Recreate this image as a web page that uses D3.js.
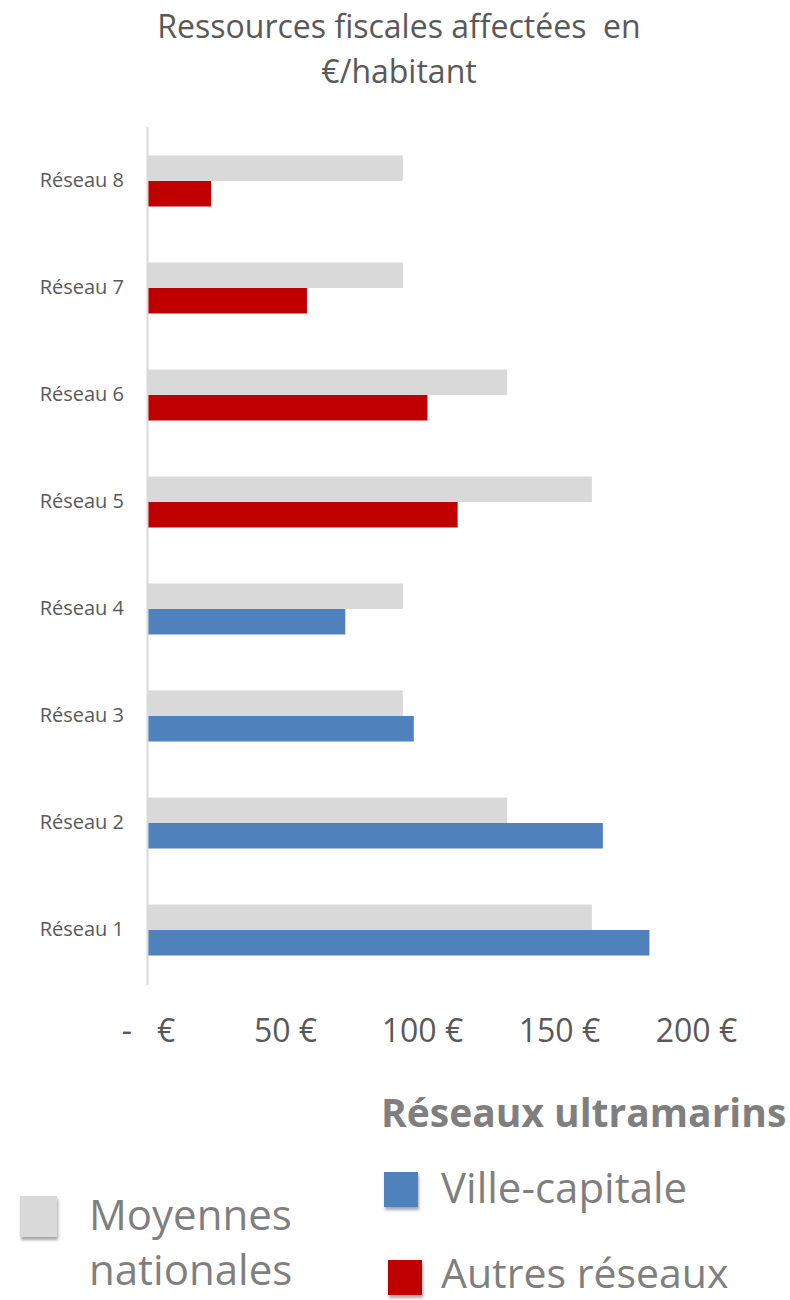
<!DOCTYPE html>
<html>
<head>
<meta charset="utf-8">
<script src="https://cdn.jsdelivr.net/npm/d3@7"></script>
<style>
  body { margin: 0; background: #fff; }
  text { font-family: "Open Sans", "Noto Sans", sans-serif; white-space: pre; }
</style>
</head>
<body>
<svg id="viz"></svg>
<script>
const width = 790;
const height = 1300;

// data
const categories = ["Réseau 8", "Réseau 7", "Réseau 6", "Réseau 5", "Réseau 4", "Réseau 3", "Réseau 2", "Réseau 1"];
const moyennes = [93, 93, 131, 162, 93, 93, 131, 162];
const reseaux = [23, 58, 102, 113, 72, 97, 166, 183];
const groupes = ["autre", "autre", "autre", "autre", "capitale", "capitale", "capitale", "capitale"];
const xTicks = [0, 50, 100, 150, 200];

const colors = { moyenne: "#d9d9d9", capitale: "#4f81bd", autre: "#c00000" };

const svg = d3.select("#viz").attr("width", width).attr("height", height);

// title
svg.append("text").attr("x", 399).attr("y", 38).attr("text-anchor", "middle")
    .attr("font-size", 32).attr("fill", "#595959").text("Ressources fiscales affectées  en");
svg.append("text").attr("x", 399).attr("y", 83).attr("text-anchor", "middle")
    .attr("font-size", 32).attr("fill", "#595959").text("€/habitant");

const x = d3.scaleLinear().domain([0, 200]).range([148, 696]);
const y = d3.scaleBand().domain(categories).range([127.5, 983.5]);
const barH = 25.5;

const rows = categories.map((c, i) => ({ cat: c, moy: moyennes[i], val: reseaux[i], grp: groupes[i] }));

// national average bars
svg.append("g").selectAll("rect").data(rows).enter().append("rect")
    .attr("x", x(0))
    .attr("y", d => y(d.cat) + y.bandwidth() / 2 - barH)
    .attr("width", d => x(d.moy) - x(0))
    .attr("height", barH)
    .attr("fill", colors.moyenne);

// network bars
svg.append("g").selectAll("rect").data(rows).enter().append("rect")
    .attr("x", x(0))
    .attr("y", d => y(d.cat) + y.bandwidth() / 2)
    .attr("width", d => x(d.val) - x(0))
    .attr("height", barH)
    .attr("fill", d => colors[d.grp]);

// vertical axis line
svg.append("line").attr("x1", 147.5).attr("x2", 147.5).attr("y1", 127).attr("y2", 985)
    .attr("stroke", "#d9d9d9").attr("stroke-width", 2);

// category labels
const yAxis = svg.append("g").attr("transform", "translate(124,0)")
    .call(d3.axisLeft(y).tickSize(0).tickPadding(0));
yAxis.select(".domain").remove();
yAxis.selectAll("text").attr("font-size", 20).attr("fill", "#595959")
    .attr("font-family", "'Open Sans', sans-serif");

// x tick labels
const fmt = v => v === 0 ? "-   €" : v + " €";
const xAxis = svg.append("g").attr("transform", "translate(0,1012)")
    .call(d3.axisBottom(x).tickValues(xTicks).tickSize(0).tickPadding(0).tickFormat(fmt));
xAxis.select(".domain").remove();
xAxis.selectAll("text").attr("font-size", 32).attr("fill", "#595959")
    .attr("font-family", "'Open Sans', sans-serif")
    .attr("dy", "0.95em");

// legend
const defs = svg.append("defs");
const f = defs.append("filter").attr("id", "shadow").attr("x", "-30%").attr("y", "-30%")
    .attr("width", "160%").attr("height", "160%");
f.append("feDropShadow").attr("dx", 1).attr("dy", 3).attr("stdDeviation", 1.5)
    .attr("flood-color", "#000").attr("flood-opacity", 0.35);

svg.append("text").attr("x", 381).attr("y", 1127).attr("font-size", 39).attr("font-weight", "bold")
    .attr("fill", "#7f7f7f").text("Réseaux ultramarins");

const legend = [
    { key: "capitale", label: ["Ville-capitale"], sx: 384, sy: 1172, tx: 441, ty: 1203, fs: 42 },
    { key: "autre", label: ["Autres réseaux"], sx: 388, sy: 1260, tx: 441, ty: 1288, fs: 41 },
    { key: "moyenne", label: ["Moyennes", "nationales"], sx: 20, sy: 1196, tx: 89, ty: 1230, fs: 42 }
];
const lg = svg.append("g").selectAll("g").data(legend).enter().append("g");
lg.append("rect")
    .attr("x", d => d.sx).attr("y", d => d.sy)
    .attr("width", d => d.key === "moyenne" ? 37 : 34).attr("height", d => d.key === "moyenne" ? 41 : 35)
    .attr("fill", d => colors[d.key]).attr("filter", "url(#shadow)");
lg.append("text")
    .attr("x", d => d.tx).attr("y", d => d.ty)
    .attr("font-size", d => d.fs).attr("fill", "#7f7f7f")
    .selectAll("tspan").data(d => d.label.map((t, i) => ({ t, i, x: d.tx }))).enter().append("tspan")
    .attr("x", d => d.x).attr("dy", d => d.i === 0 ? 0 : 55).text(d => d.t);
</script>
</body>
</html>
